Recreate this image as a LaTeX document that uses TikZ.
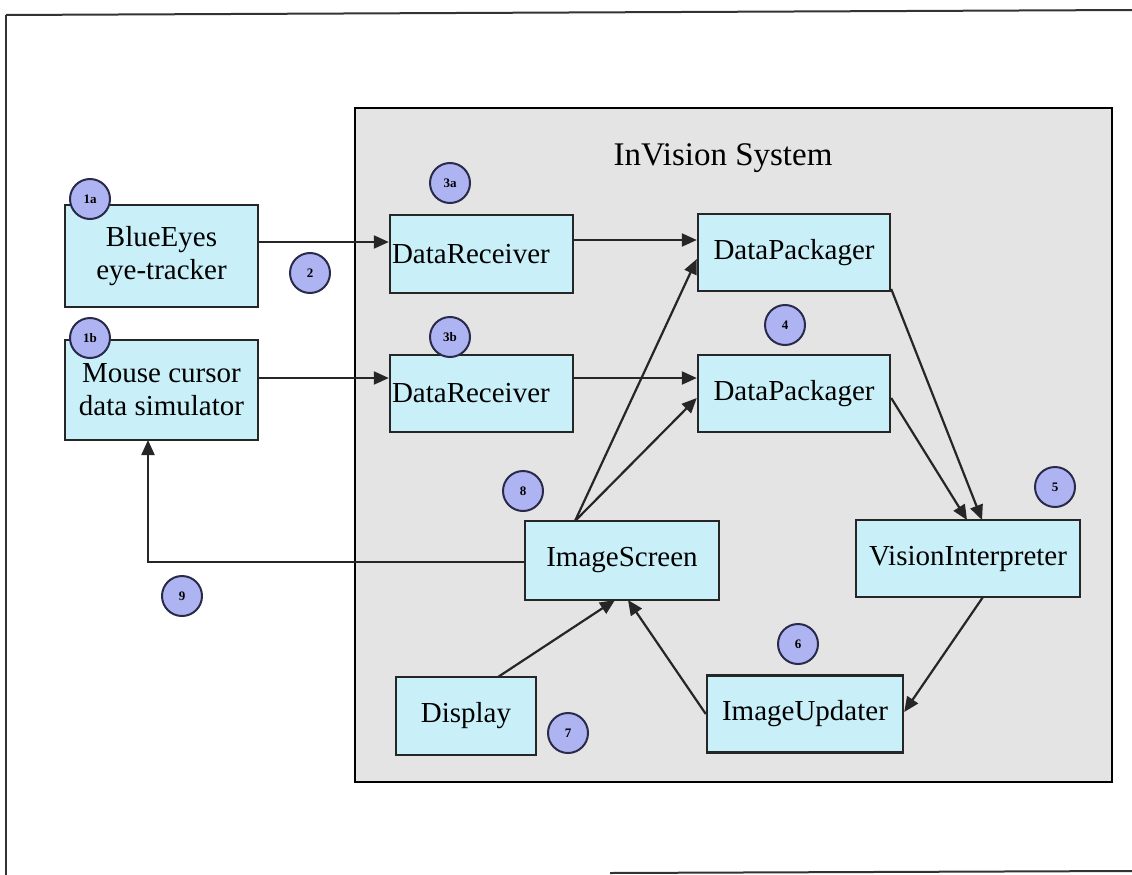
\documentclass[tikz,border=0pt]{standalone}
\usepackage{fontspec}
\setmainfont{Liberation Serif}
\usetikzlibrary{arrows.meta}
\definecolor{boxfill}{HTML}{C9F0F8}
\definecolor{sysfill}{HTML}{E4E4E4}
\definecolor{badgefill}{HTML}{AEB4F2}
\definecolor{badgeline}{HTML}{2A2A4A}
\tikzset{
  blk/.style={draw=black!85, line width=2.4pt, fill=boxfill, inner sep=0pt, font=\fontsize{29}{33}\selectfont, align=center},
  badge/.style={circle, draw=badgeline, line width=2pt, fill=badgefill, minimum size=40pt, inner sep=0pt, font=\fontsize{13}{14}\selectfont\bfseries},
  conn/.style={line width=2.2pt, draw=black!85, -{Triangle[length=15pt,width=13pt]}}
}
\begin{document}
\begin{tikzpicture}[x=1pt,y=-1pt]
\useasboundingbox (0,0) rectangle (1132,875);
% outer frame
\draw[line width=2pt, black!80] (6,15) -- (1132,10);
\draw[line width=2pt, black!80] (6,15) -- (6,875);
\draw[line width=2pt, black!80] (610,873) -- (1132,871);
% system box
\draw[line width=2.6pt, fill=sysfill] (355,108) rectangle (1112,782);
\node[font=\fontsize{33}{37}\selectfont] (title) at (723,158) {InVision System};
% nodes
\node[blk, minimum width=193pt, minimum height=102pt] (blue) at (161.5,256) {BlueEyes\\eye-tracker};
\node[blk, minimum width=193pt, minimum height=100pt] (mouse) at (161.5,390) {Mouse cursor\\data simulator};
\node[blk, minimum width=183pt, minimum height=78pt, text width=179pt, align=left] (dr1) at (481.5,254) {DataReceiver};
\node[blk, minimum width=183pt, minimum height=77pt, text width=179pt, align=left] (dr2) at (481.5,393.5) {DataReceiver};
\node[blk, minimum width=192pt, minimum height=77pt] (dp1) at (794,252.5) {DataPackager};
\node[blk, minimum width=192pt, minimum height=77pt] (dp2) at (794,393.5) {DataPackager};
\node[blk, minimum width=224pt, minimum height=77pt] (vi) at (968,558.5) {VisionInterpreter};
\node[blk, minimum width=194pt, minimum height=79pt] (is) at (622,560.5) {ImageScreen};
\node[blk, minimum width=140pt, minimum height=78pt] (disp) at (466,716) {Display};
\node[blk, minimum width=196pt, minimum height=77pt] (iu) at (805,714) {ImageUpdater};
% badges
\node[badge] (b1a) at (90,199) {1a};
\node[badge] (b1b) at (90,338) {1b};
\node[badge] (b2) at (310,273) {2};
\node[badge] (b3a) at (450,183) {3a};
\node[badge] (b3b) at (450,337) {3b};
\node[badge] (b4) at (785,325) {4};
\node[badge] (b5) at (1055,487) {5};
\node[badge] (b6) at (798,644) {6};
\node[badge] (b7) at (568,733) {7};
\node[badge] (b8) at (523,491) {8};
\node[badge] (b9) at (182,596) {9};
% connectors
\draw[conn] (blue.east |- 0,242) -- (dr1.west |- 0,242);
\draw[conn] (dr1.east |- 0,240) -- (dp1.west |- 0,240);
\draw[conn] (mouse.east |- 0,378) -- (dr2.west |- 0,378);
\draw[conn] (dr2.east |- 0,378) -- (dp2.west |- 0,378);
\coordinate (isTop) at (575,521);
\draw[conn] (isTop) -- (dp1.west |- 0,259);
\draw[conn] (isTop) -- (dp2.west |- 0,398);
\draw[conn] (dp1.east |- 0,289) -- (982,520);
\draw[conn] (dp2.east |- 0,398) -- (967,520);
\draw[conn] (983,597) -- (iu.east |- 0,712);
\draw[conn] (iu.west |- 0,714) -- (628,600);
\draw[conn] (498,677) -- (615,600);
\draw[conn] (is.west |- 0,562) -- (148,562) -- (148,440);
\end{tikzpicture}
\end{document}
